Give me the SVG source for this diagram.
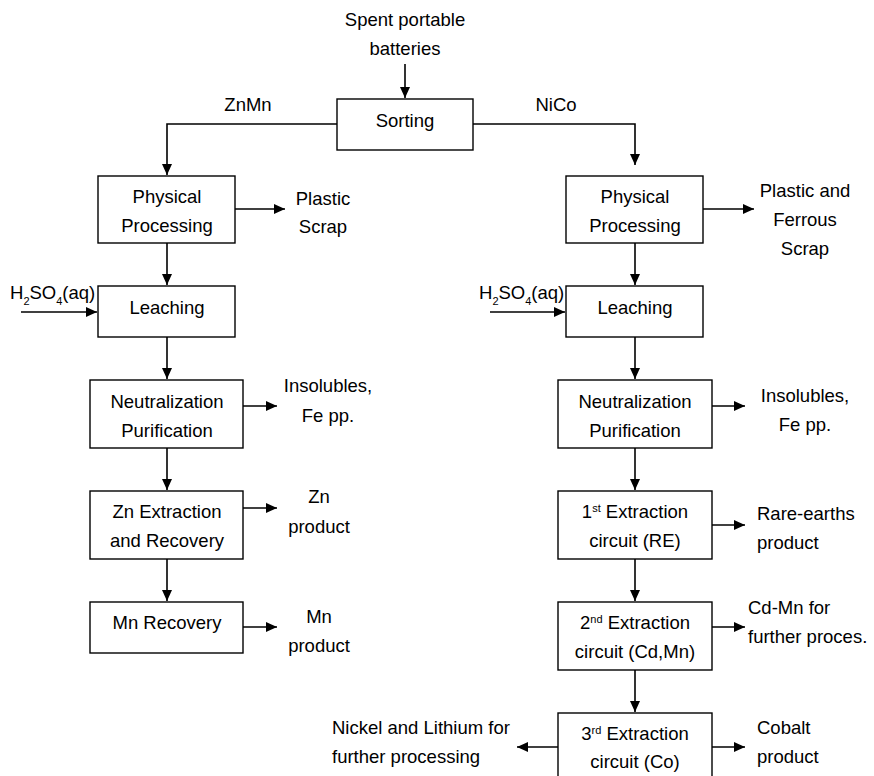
<svg xmlns="http://www.w3.org/2000/svg" width="874" height="776" viewBox="0 0 874 776">
<style>
text{font-family:"Liberation Sans",Arial,sans-serif;font-size:18.5px;fill:#000}
.m{text-anchor:middle}
.b{fill:#fff;stroke:#000;stroke-width:1.4}
.c{fill:none;stroke:#000;stroke-width:1.6}
.sup{font-size:11px}
.sub{font-size:11px}
</style>
<defs>
<marker id="ah" markerUnits="userSpaceOnUse" markerWidth="12" markerHeight="10" refX="11" refY="5" orient="auto">
<path d="M0,0 L11,5 L0,10 Z" fill="#000"/>
</marker>
</defs>
<rect width="874" height="776" fill="#fff"/>
<g id="connectors">
<path class="c" d="M405,64 V98" marker-end="url(#ah)"/>
<path class="c" d="M337,124 H167 V175" marker-end="url(#ah)"/>
<path class="c" d="M473,124 H635 V165" marker-end="url(#ah)"/>
<path class="c" d="M235,209 H285" marker-end="url(#ah)"/>
<path class="c" d="M703,209 H754" marker-end="url(#ah)"/>
<path class="c" d="M167,243 V285" marker-end="url(#ah)"/>
<path class="c" d="M635,243 V285" marker-end="url(#ah)"/>
<path class="c" d="M21,312 H97" marker-end="url(#ah)"/>
<path class="c" d="M490,312 H565" marker-end="url(#ah)"/>
<path class="c" d="M167,337 V379" marker-end="url(#ah)"/>
<path class="c" d="M635,337 V379" marker-end="url(#ah)"/>
<path class="c" d="M243,406 H277" marker-end="url(#ah)"/>
<path class="c" d="M712,406 H745" marker-end="url(#ah)"/>
<path class="c" d="M167,448 V490" marker-end="url(#ah)"/>
<path class="c" d="M635,448 V490" marker-end="url(#ah)"/>
<path class="c" d="M243,508 H277" marker-end="url(#ah)"/>
<path class="c" d="M712,525 H745" marker-end="url(#ah)"/>
<path class="c" d="M167,559 V601" marker-end="url(#ah)"/>
<path class="c" d="M635,559 V601" marker-end="url(#ah)"/>
<path class="c" d="M243,627 H277" marker-end="url(#ah)"/>
<path class="c" d="M712,627 H745" marker-end="url(#ah)"/>
<path class="c" d="M635,670 V712" marker-end="url(#ah)"/>
<path class="c" d="M712,747 H745" marker-end="url(#ah)"/>
<path class="c" d="M558,747 H517" marker-end="url(#ah)"/>
</g>
<g id="input">
<text class="m" x="405" y="26">Spent portable</text>
<text class="m" x="405" y="55">batteries</text>
</g>
<g id="sorting">
<rect class="b" x="337" y="99" width="136" height="51"/>
<text class="m" x="405" y="127">Sorting</text>
</g>
<g id="label-znmn"><text class="m" x="248" y="111">ZnMn</text></g>
<g id="label-nico"><text class="m" x="556" y="111">NiCo</text></g>
<g id="phys-left">
<rect class="b" x="98" y="176" width="137" height="67"/>
<text class="m" x="167" y="203">Physical</text>
<text class="m" x="167" y="232">Processing</text>
</g>
<g id="plastic-scrap">
<text class="m" x="323" y="205">Plastic</text>
<text class="m" x="323" y="233">Scrap</text>
</g>
<g id="phys-right">
<rect class="b" x="566" y="176" width="137" height="67"/>
<text class="m" x="635" y="203">Physical</text>
<text class="m" x="635" y="232">Processing</text>
</g>
<g id="plastic-ferrous">
<text class="m" x="805" y="197">Plastic and</text>
<text class="m" x="805" y="226">Ferrous</text>
<text class="m" x="805" y="255">Scrap</text>
</g>
<g id="acid-left"><text x="10" y="299">H<tspan class="sub" baseline-shift="sub">2</tspan>SO<tspan class="sub" baseline-shift="sub">4</tspan>(aq)</text></g>
<g id="leach-left">
<rect class="b" x="98" y="286" width="137" height="51"/>
<text class="m" x="167" y="314">Leaching</text>
</g>
<g id="acid-right"><text x="479" y="299">H<tspan class="sub" baseline-shift="sub">2</tspan>SO<tspan class="sub" baseline-shift="sub">4</tspan>(aq)</text></g>
<g id="leach-right">
<rect class="b" x="566" y="286" width="137" height="51"/>
<text class="m" x="635" y="314">Leaching</text>
</g>
<g id="neut-left">
<rect class="b" x="90" y="380" width="153" height="68"/>
<text class="m" x="167" y="408">Neutralization</text>
<text class="m" x="167" y="437">Purification</text>
</g>
<g id="insol-left">
<text class="m" x="328" y="392">Insolubles,</text>
<text class="m" x="328" y="422">Fe pp.</text>
</g>
<g id="neut-right">
<rect class="b" x="558" y="380" width="154" height="68"/>
<text class="m" x="635" y="408">Neutralization</text>
<text class="m" x="635" y="437">Purification</text>
</g>
<g id="insol-right">
<text class="m" x="805" y="402">Insolubles,</text>
<text class="m" x="805" y="431">Fe pp.</text>
</g>
<g id="zn-extract">
<rect class="b" x="90" y="491" width="153" height="68"/>
<text class="m" x="167" y="518">Zn Extraction</text>
<text class="m" x="167" y="547">and Recovery</text>
</g>
<g id="zn-product">
<text class="m" x="319" y="503">Zn</text>
<text class="m" x="319" y="533">product</text>
</g>
<g id="mn-recovery">
<rect class="b" x="90" y="602" width="153" height="51"/>
<text class="m" x="167" y="629">Mn Recovery</text>
</g>
<g id="mn-product">
<text class="m" x="319" y="623">Mn</text>
<text class="m" x="319" y="652">product</text>
</g>
<g id="ext1">
<rect class="b" x="558" y="491" width="154" height="68"/>
<text class="m" x="635" y="518">1<tspan class="sup" baseline-shift="super">st</tspan> Extraction</text>
<text class="m" x="635" y="547">circuit (RE)</text>
</g>
<g id="re-product">
<text x="757" y="520">Rare-earths</text>
<text x="757" y="549">product</text>
</g>
<g id="ext2">
<rect class="b" x="558" y="602" width="154" height="68"/>
<text class="m" x="635" y="629">2<tspan class="sup" baseline-shift="super">nd</tspan> Extraction</text>
<text class="m" x="635" y="658">circuit (Cd,Mn)</text>
</g>
<g id="cdmn">
<text x="748" y="614">Cd-Mn for</text>
<text x="748" y="643">further proces.</text>
</g>
<g id="ext3">
<rect class="b" x="558" y="713" width="154" height="70"/>
<text class="m" x="635" y="740">3<tspan class="sup" baseline-shift="super">rd</tspan> Extraction</text>
<text class="m" x="635" y="768">circuit (Co)</text>
</g>
<g id="cobalt">
<text x="757" y="734">Cobalt</text>
<text x="757" y="763">product</text>
</g>
<g id="nili">
<text x="332" y="734">Nickel and Lithium for</text>
<text x="332" y="763">further processing</text>
</g>
</svg>
